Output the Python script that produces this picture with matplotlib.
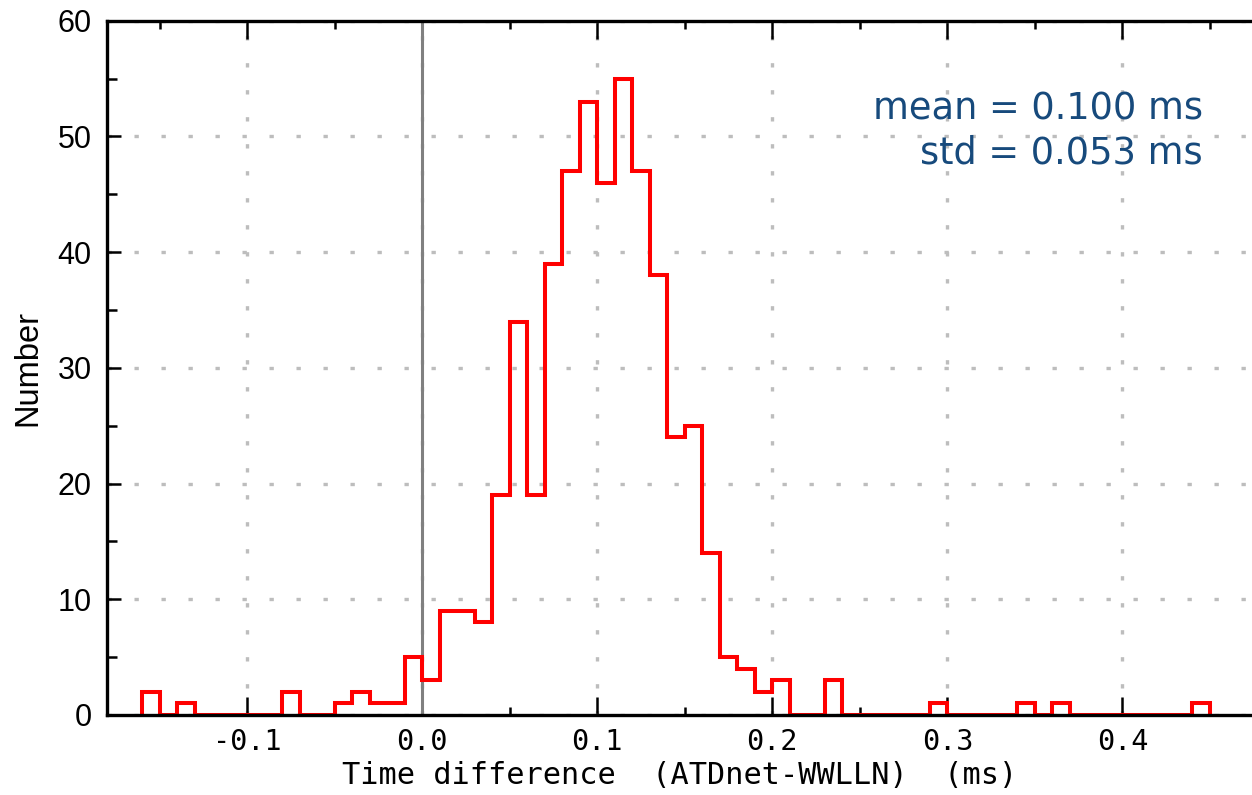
import numpy as np
import matplotlib
matplotlib.use("Agg")
import matplotlib.pyplot as plt
from matplotlib.ticker import MultipleLocator

# ---- data: histogram of time differences (bin width 0.01 ms) ----
bin_start = -0.16
bin_width = 0.01
counts = [
    2, 0, 1, 0, 0, 0, 0, 0, 2, 0,      # -0.16 .. -0.07
    0, 1, 2, 1, 1, 5,                  # -0.06 .. -0.01
    3, 9, 9, 8, 19, 34, 19, 39, 47, 53,  # 0.00 .. 0.09
    46, 55, 47, 38, 24, 25, 14, 5, 4, 2,  # 0.10 .. 0.19
    3, 0, 0, 3, 0, 0, 0, 0, 0, 1,      # 0.20 .. 0.29
    0, 0, 0, 0, 1, 0, 1, 0, 0, 0,      # 0.30 .. 0.39
    0, 0, 0, 0, 1,                     # 0.40 .. 0.44
]
edges = bin_start + bin_width * np.arange(len(counts) + 1)
mean_text = "mean = 0.100 ms"
std_text = "std = 0.053 ms"
xlabel = "Time difference  (ATDnet-WWLLN)  (ms)"
ylabel = "Number"

W, H = 1252, 795
fig = plt.figure(figsize=(W / 100, H / 100), dpi=100)
ax = fig.add_axes([107 / W, (H - 715) / H, (W - 107) / W, (715 - 20.7) / H])

ax.set_xlim(-0.18, 0.474)
ax.set_ylim(0, 60)

ax.xaxis.set_major_locator(MultipleLocator(0.1))
ax.xaxis.set_minor_locator(MultipleLocator(0.05))
ax.yaxis.set_major_locator(MultipleLocator(10))
ax.yaxis.set_minor_locator(MultipleLocator(5))
ax.grid(True, which="major", color="#bdbdbd", linewidth=2.4,
        linestyle=(0, (1.3, 6.8)), zorder=0)
ax.set_axisbelow(True)

ax.axvline(0.0, color="#808080", linewidth=2.2, zorder=1)

ax.stairs(counts, edges, color="red", linewidth=2.9, baseline=0, zorder=2)

for s in ["left", "bottom", "top"]:
    ax.spines[s].set_linewidth(2.4)
    ax.spines[s].set_color("black")
    ax.spines[s].set_zorder(3)
ax.spines["right"].set_visible(False)

ax.tick_params(axis="x", which="both", direction="in", top=True, bottom=True,
               width=1.8, color="black")
ax.tick_params(axis="x", which="major", length=13, pad=9)
ax.tick_params(axis="x", which="minor", length=6)
ax.tick_params(axis="y", which="both", direction="in", left=True, right=False,
               width=1.8, color="black")
ax.tick_params(axis="y", which="major", length=10, pad=11)
ax.tick_params(axis="y", which="minor", length=7)

ax.xaxis.set_major_formatter(plt.FuncFormatter(
    lambda v, p: ("%.1f" % v).replace("-0.0", "0.0")))
for lab in ax.get_xticklabels():
    lab.set_fontfamily("DejaVu Sans Mono")
    lab.set_fontsize(20.5)
for lab in ax.get_yticklabels():
    lab.set_fontfamily("Liberation Sans")
    lab.set_fontsize(22)

ax.set_xlabel(xlabel, fontfamily="DejaVu Sans Mono", fontsize=21.8, labelpad=4)
ax.set_ylabel(ylabel, fontfamily="Liberation Sans", fontsize=23.5, labelpad=10)

ax.text(1203, H - 120, mean_text, transform=None, ha="right", va="baseline",
        fontfamily="DejaVu Sans", fontsize=26.5, color="#174a7c")
ax.text(1203, H - 163, std_text, transform=None, ha="right", va="baseline",
        fontfamily="DejaVu Sans", fontsize=26.5, color="#174a7c")

fig.savefig("out.png", dpi=100)
